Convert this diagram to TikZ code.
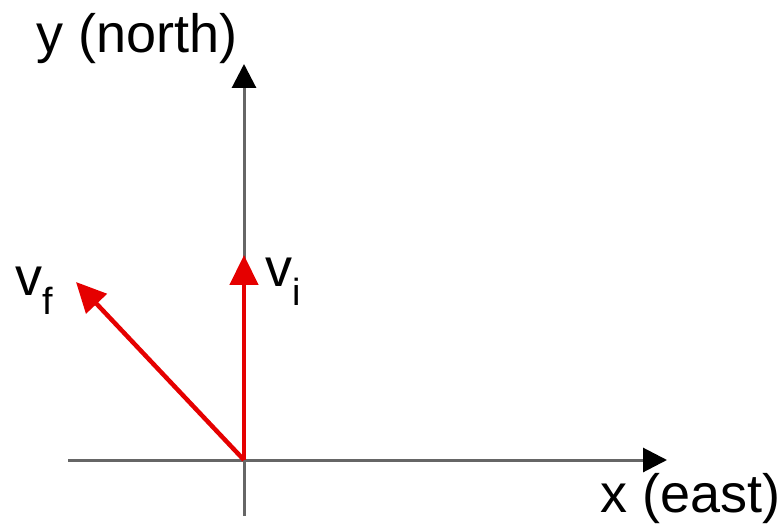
\documentclass[tikz,border=0pt]{standalone}
\usepackage{fontspec}
\setmainfont{Liberation Sans}
\usetikzlibrary{arrows.meta}
\begin{document}
\begin{tikzpicture}[x=1pt,y=-1pt,
  axis/.style={line width=3pt,draw=black!60,-{Triangle[length=24pt,width=24pt,color=black]}},
  vec/.style={line width=4.5pt,draw=red!90!black,-{Triangle[length=30pt,width=28pt]}},
  lbl/.style={inner sep=0pt,font=\fontsize{54}{60}\selectfont}]
\useasboundingbox (0,0) rectangle (784,526);
\coordinate (O) at (244,460);
\coordinate (ybot) at (244,516);
\coordinate (ytop) at (244,64);
\coordinate (xl) at (68,460);
\coordinate (xr) at (667,460);
\coordinate (vi) at (244,255);
\coordinate (vf) at (76,282);
\draw[axis] (ybot) -- (ytop);
\draw[axis] (xl) -- (xr);
\draw[vec] (O) -- (vi);
\draw[vec] (O) -- (vf);
\node[lbl,anchor=base west] (ylab) at (36,53) {y (north)};
\node[lbl,anchor=base east] (xlab) at (781,512) {x (east)};
\node[lbl,anchor=base west] (vflab) at (15,296) {v\textsubscript{f}};
\node[lbl,anchor=base west] (vilab) at (265,287) {v\textsubscript{i}};
\end{tikzpicture}
\end{document}
